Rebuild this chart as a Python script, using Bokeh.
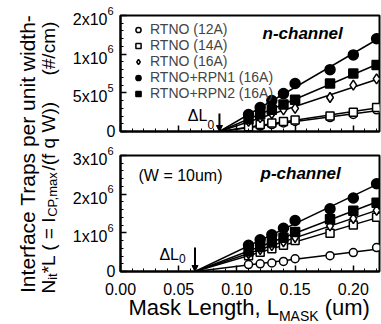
import numpy as np
from math import pi
from bokeh.plotting import figure
from bokeh.layouts import row, column
from bokeh.models import (Range1d, FixedTicker, Label, Legend, LegendItem, Arrow,
                          NormalHead, CustomLabelingPolicy)
from bokeh.embed import file_html
from bokeh.resources import INLINE

# ---------------- data ----------------
x_mask = [0.11, 0.12, 0.13, 0.14, 0.15, 0.18, 0.20, 0.22]
series_labels = ["RTNO (12A)", "RTNO (14A)", "RTNO (16A)", "RTNO+RPN1 (16A)", "RTNO+RPN2 (16A)"]

# n-channel (#/cm)
n_rtno_12a = [0.05e6, 0.07e6, 0.09e6, 0.11e6, 0.13e6, 0.18e6, 0.22e6, 0.28e6]
n_rtno_14a = [0.06e6, 0.09e6, 0.11e6, 0.13e6, 0.15e6, 0.20e6, 0.25e6, 0.31e6]
n_rtno_16a = [0.13e6, 0.18e6, 0.23e6, 0.28e6, 0.30e6, 0.44e6, 0.60e6, 0.68e6]
n_rpn1_16a = [0.22e6, 0.31e6, 0.40e6, 0.49e6, 0.62e6, 0.80e6, 0.99e6, 1.20e6]
n_rpn2_16a = [0.16e6, 0.22e6, 0.28e6, 0.35e6, 0.41e6, 0.62e6, 0.75e6, 0.86e6]

# p-channel (#/cm)
p_rtno_12a = [0.18e6, 0.20e6, 0.22e6, 0.26e6, 0.33e6, 0.41e6, 0.49e6, 0.62e6]
p_rtno_14a = [0.41e6, 0.50e6, 0.59e6, 0.68e6, 0.80e6, 0.99e6, 1.20e6, 1.40e6]
p_rtno_16a = [0.46e6, 0.57e6, 0.67e6, 0.77e6, 0.88e6, 1.18e6, 1.37e6, 1.58e6]
p_rpn1_16a = [0.68e6, 0.82e6, 0.95e6, 1.12e6, 1.32e6, 1.62e6, 1.90e6, 2.27e6]
p_rpn2_16a = [0.52e6, 0.64e6, 0.75e6, 0.87e6, 1.02e6, 1.35e6, 1.57e6, 1.78e6]

# Delta L0 (um)
dL0_n = 0.085
dL0_p = 0.064

x_ticks = [0.00, 0.05, 0.10, 0.15, 0.20]
x_tick_labels = ["0.00", "0.05", "0.10", "0.15", "0.20"]
y_ticks_n = [0, 5e5, 1e6, 1.5e6]
y_tick_labels_n = [("0", ""), ("5x10", "5"), ("1x10", "6"), ("2x10", "6")]
y_ticks_p = [0, 1e6, 2e6, 3e6]
y_tick_labels_p = [("0", ""), ("1x10", "6"), ("2x10", "6"), ("3x10", "6")]

# ---------------- layout / styles ----------------
FONT = "Liberation Sans"
X_MAX = 0.2225
YMAX_N, YMAX_P = 1.5e6, 3e6
markers = ["circle", "square", "diamond", "circle", "square"]
fills = ["white", "white", "white", "black", "black"]
sizes = [8, 8, 10, 10, 9]

TOTAL_H = 324
TITLE_W = 60          # y-title strip
YT_W = 56             # y tick-label strip
PANEL_W = 265
BL, BR = 4, 2
FRAME_W = PANEL_W - BL - BR
FRAME_H = 116
TOP_H, TOP_BT, TOP_BB = 143, 15, 12
BOT_H, BOT_BT, BOT_BB = 135, 12, 7
UP_H = TOP_H + BOT_H
XT_W = YT_W + PANEL_W
XT_H = TOTAL_H - UP_H

AW = {' ': 278, '#': 556, '(': 333, ')': 333, '*': 389, ',': 278, '-': 333, '.': 278,
      '/': 278, '=': 584, 'A': 667, 'C': 722, 'I': 278, 'K': 667, 'L': 556, 'M': 833,
      'N': 722, 'P': 667, 'S': 667, 'T': 611, 'W': 944, 'a': 556, 'c': 500, 'd': 556,
      'e': 556, 'f': 278, 'g': 556, 'h': 556, 'i': 222, 'k': 500, 'l': 222, 'm': 833,
      'n': 556, 'p': 556, 'q': 556, 'r': 333, 's': 500, 't': 278, 'u': 556, 'w': 722,
      'x': 500}


def tw(s, size):
    return sum(AW.get(c, 556) for c in s) / 1000.0 * size


def lab(p, **kw):
    kw.setdefault("text_font", FONT)
    kw.setdefault("text_color", "black")
    p.add_layout(Label(**kw))


def strip(width, height, x_range, y_range):
    f = figure(width=width, height=height, x_range=x_range, y_range=y_range,
               output_backend="svg", toolbar_location=None, x_axis_type=None,
               y_axis_type=None, min_border=0)
    f.outline_line_color = None
    f.grid.visible = False
    return f


HIDE_LABELS = "for (const i of indices) { indices.unset(i) }\nreturn indices"


def make_panel(height, b_top, b_bottom, y_max, y_ticks, y_minor):
    p = figure(width=PANEL_W, height=height, x_range=Range1d(0, X_MAX), y_range=Range1d(0, y_max),
               output_backend="svg", toolbar_location=None,
               min_border_left=BL, min_border_right=BR, min_border_top=b_top,
               min_border_bottom=b_bottom)
    p.grid.visible = False
    p.outline_line_color = "black"
    p.outline_line_width = 2
    p.outline_line_alpha = 1
    for ax in (p.xaxis[0], p.yaxis[0]):
        ax.axis_line_width = 2
        ax.major_tick_in = 6
        ax.major_tick_out = 0
        ax.minor_tick_in = 3
        ax.minor_tick_out = 0
        ax.major_tick_line_width = 1.5
        ax.minor_tick_line_width = 1
        ax.major_label_text_font_size = "0px"
        ax.major_label_standoff = 0
        ax.major_label_policy = CustomLabelingPolicy(code=HIDE_LABELS)
    p.xaxis.ticker = FixedTicker(ticks=x_ticks,
                                 minor_ticks=list(np.round(np.arange(0, 0.23, 0.01), 3)))
    p.yaxis.ticker = FixedTicker(ticks=y_ticks, minor_ticks=y_minor)
    return p


def add_series(p, series, dL0):
    xs = np.array(x_mask)
    for ys in series:
        y = np.array(ys)
        d = xs - dL0
        slope = (d * y).sum() / (d * d).sum()
        p.line([dL0, xs[-1]], [0, slope * (xs[-1] - dL0)], line_color="black", line_width=1.5)
    rends = {}
    for i in [0, 1, 2, 4, 3]:
        rends[i] = p.scatter(x_mask, series[i], marker=markers[i], size=sizes[i],
                             fill_color=fills[i], line_color="black", line_width=1.5)
    return [rends[i] for i in range(5)]


def add_dl0(p, dL0, y_max, frac, dx, dy_main, dy_sub):
    p.add_layout(Arrow(x_start=dL0, y_start=y_max * frac, x_end=dL0, y_end=0,
                       line_color="black", line_width=2,
                       end=NormalHead(size=6, fill_color="black", line_color="black")))
    lab(p, x=dL0, y=0, x_offset=dx, y_offset=dy_main, text="\u0394L", text_align="right",
        text_baseline="middle", text_font_size="16px")
    lab(p, x=dL0, y=0, x_offset=dx, y_offset=dy_sub, text="0", text_align="left",
        text_baseline="middle", text_font_size="12px")


# ---------------- top panel: n-channel ----------------
p_top = make_panel(TOP_H, TOP_BT, TOP_BB, YMAX_N, y_ticks_n, list(np.arange(0, YMAX_N + 1, 1e5)))
r_top = add_series(p_top, [n_rtno_12a, n_rtno_14a, n_rtno_16a, n_rpn1_16a, n_rpn2_16a], dL0_n)
add_dl0(p_top, dL0_n, YMAX_N, 0.155, -12, 16, 7)
lab(p_top, x=0, y=YMAX_N, x_offset=142, y_offset=-18, text="n-channel", text_align="left",
    text_baseline="middle", text_font_size="17px", text_font_style="bold italic")

legend = Legend(items=[LegendItem(label=s, renderers=[r]) for s, r in zip(series_labels, r_top)],
                location="top_left", margin=4, padding=2, spacing=-2, glyph_width=24,
                glyph_height=13, label_height=13, label_standoff=0,
                label_text_font=FONT, label_text_font_size="14px",
                background_fill_alpha=0, border_line_alpha=0)
p_top.add_layout(legend)

# ---------------- bottom panel: p-channel ----------------
p_bot = make_panel(BOT_H, BOT_BT, BOT_BB, YMAX_P, y_ticks_p, list(np.arange(0, YMAX_P + 1, 2e5)))
add_series(p_bot, [p_rtno_12a, p_rtno_14a, p_rtno_16a, p_rpn1_16a, p_rpn2_16a], dL0_p)
add_dl0(p_bot, dL0_p, YMAX_P, 0.207, -16, 17, 13)
lab(p_bot, x=0, y=YMAX_P, x_offset=140, y_offset=-18, text="p-channel", text_align="left",
    text_baseline="middle", text_font_size="17px", text_font_style="bold italic")
lab(p_bot, x=0, y=YMAX_P, x_offset=18, y_offset=-20, text="(W = 10um)", text_align="left",
    text_baseline="middle", text_font_size="16px")

# ---------------- bottom strip: x tick labels + x-axis title ----------------
sx = X_MAX / FRAME_W
left_px = YT_W + BL
p_xt = strip(XT_W, XT_H, Range1d(-left_px * sx, X_MAX + (XT_W - left_px - FRAME_W) * sx),
             Range1d(0, XT_H))
for t, s in zip(x_ticks, x_tick_labels):
    lab(p_xt, x=t, y=XT_H - 10, text=s, text_align="center", text_baseline="middle",
        text_font_size="16px")
xpos = left_px + 8
for txt, fs, yy, gap in [("Mask Length, L", 22, 17, 0), ("MASK", 14, 9, 0), ("(um)", 22, 17, 1)]:
    xpos += gap * tw(" ", fs)
    lab(p_xt, x=xpos, y=yy, x_units="screen", text=txt, text_align="left",
        text_baseline="middle", text_font_size=f"{fs}px")
    xpos += tw(txt, fs)

# ---------------- y tick-label strip (aligned with both panel frames) ----------------
p_yt = strip(YT_W, UP_H, Range1d(0, YT_W), Range1d(0, UP_H))
top_frame_bottom = UP_H - (TOP_BT + FRAME_H)
bot_frame_bottom = BOT_BB
s_n = YMAX_N / FRAME_H
s_p = YMAX_P / FRAME_H
p_yt.extra_y_ranges = {
    "n": Range1d(-top_frame_bottom * s_n, (UP_H - top_frame_bottom) * s_n),
    "p": Range1d(-bot_frame_bottom * s_p, (UP_H - bot_frame_bottom) * s_p),
}


def add_yticklabels(rng, ticks, labels):
    for t, (main, sup) in zip(ticks, labels):
        if sup:
            lab(p_yt, x=YT_W - 9, y=t, y_range_name=rng, y_offset=-4, text=main,
                text_align="right", text_baseline="middle", text_font_size="16px")
            lab(p_yt, x=YT_W - 9, y=t, y_range_name=rng, y_offset=5, text=sup,
                text_align="left", text_baseline="middle", text_font_size="11px")
        else:
            lab(p_yt, x=YT_W - 1, y=t, y_range_name=rng, y_offset=1, text=main,
                text_align="right", text_baseline="middle", text_font_size="16px")


add_yticklabels("n", y_ticks_n, y_tick_labels_n)
add_yticklabels("p", y_ticks_p, y_tick_labels_p)

# ---------------- y-title strip ----------------
p_title = strip(TITLE_W, TOTAL_H, Range1d(0, TITLE_W), Range1d(0, TOTAL_H))
outer = "Interface Traps per unit width-"
lab(p_title, x=27, y=171 - tw(outer, 21) / 2, text=outer, angle=pi / 2,
    text_align="left", text_baseline="alphabetic", text_font_size="21px")
ypos = 31
for txt, fs, sub, gap in [("N", 19, False, 0), ("it", 13, True, 0), ("*L ( = I", 19, False, 0),
                          ("CP,max", 13, True, 0), ("/(f q W))", 19, False, 0),
                          ("(#/cm)", 19, False, 5)]:
    ypos += gap * tw(" ", fs)
    lab(p_title, x=48 + (4 if sub else 0), y=ypos, text=txt, angle=pi / 2, text_align="left",
        text_baseline="alphabetic", text_font_size=f"{fs}px")
    ypos += tw(txt, fs)

layout = row(p_title, column(row(p_yt, column(p_top, p_bot)), p_xt))
open("out.html", "w").write(file_html(layout, INLINE))
